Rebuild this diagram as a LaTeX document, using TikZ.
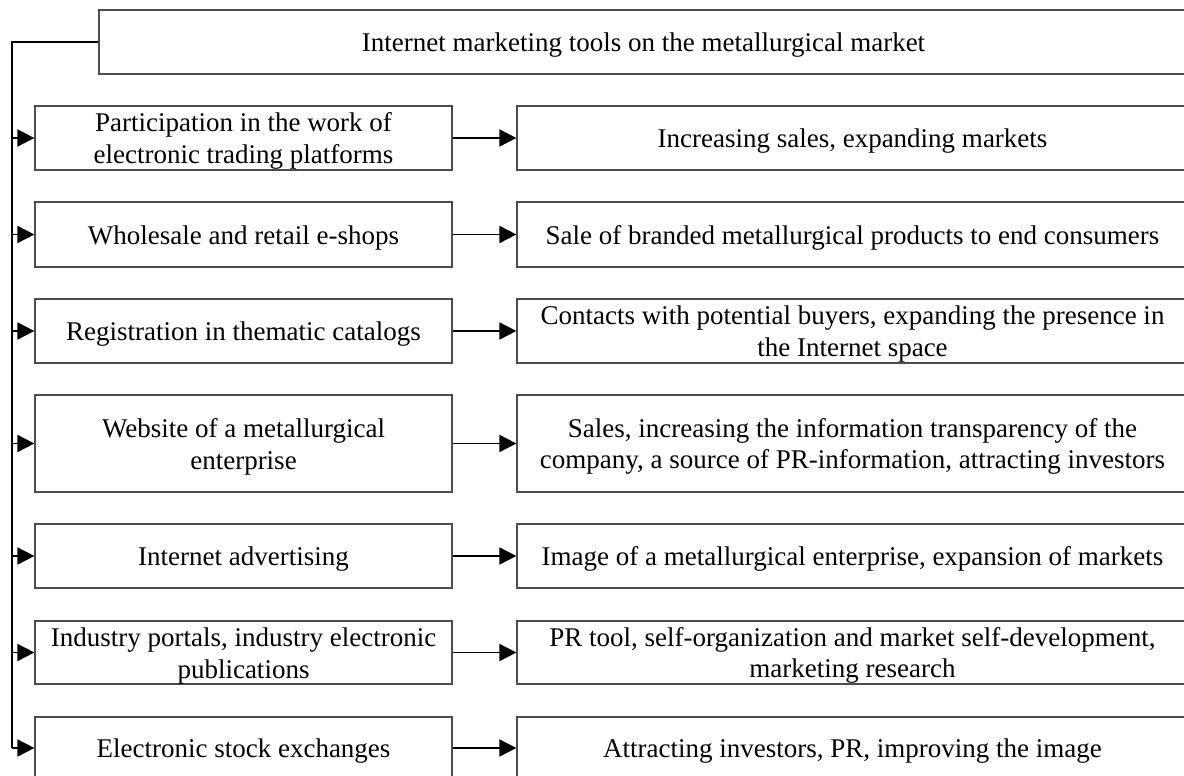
\documentclass[tikz,border=0pt]{standalone}
\usepackage{fontspec}
\setmainfont{Liberation Serif}
\usetikzlibrary{arrows.meta}
\newcommand\fstrut{\rule{0pt}{12.6pt}}
\begin{document}
\begin{tikzpicture}[x=0.5pt,y=-0.5pt,
  box/.style={draw=black!70, line width=0.6pt, rectangle, inner xsep=1pt, inner ysep=0pt, align=center,
    font=\fontsize{13.5}{15.8}\selectfont},
  lbox/.style={box, minimum width=208.5pt},
  rbox/.style={box, minimum width=335.5pt},
  conn/.style={draw=black, line width=0.9pt},
  arr/.style={conn, -{Triangle[length=8.5pt,width=8.5pt]}}
]
\useasboundingbox (0,0) rectangle (1184,776);
\node[box, minimum width=544.5pt, minimum height=32pt] (top) at (643.5,42) {\fstrut Internet marketing tools on the metallurgical market};

\node[lbox, minimum height=32pt] (l1) at (243.5,138) {\fstrut Participation in the work of\\electronic trading platforms};
\node[rbox, minimum height=32pt] (r1) at (852.5,138) {\fstrut Increasing sales, expanding markets};

\node[lbox, minimum height=32.5pt] (l2) at (243.5,234.5) {\fstrut Wholesale and retail e-shops};
\node[rbox, minimum height=32.5pt] (r2) at (852.5,234.5) {\fstrut Sale of branded metallurgical products to end consumers};

\node[lbox, minimum height=32pt] (l3) at (243.5,331) {\fstrut Registration in thematic catalogs};
\node[rbox, minimum height=32pt] (r3) at (852.5,331) {\fstrut Contacts with potential buyers, expanding the presence in\\the Internet space};

\node[lbox, minimum height=48.5pt] (l4) at (243.5,443.5) {\fstrut Website of a metallurgical\\enterprise};
\node[rbox, minimum height=48.5pt] (r4) at (852.5,443.5) {\fstrut Sales, increasing the information transparency of the\\company, a source of PR-information, attracting investors};

\node[lbox, minimum height=32pt] (l5) at (243.5,556) {\fstrut Internet advertising};
\node[rbox, minimum height=32pt] (r5) at (852.5,556) {\fstrut Image of a metallurgical enterprise, expansion of markets};

\node[lbox, minimum height=31.5pt] (l6) at (243.5,652.5) {\fstrut Industry portals, industry electronic\\publications};
\node[rbox, minimum height=31.5pt] (r6) at (852.5,652.5) {\fstrut PR tool, self-organization and market self-development,\\marketing research};

\node[lbox, minimum height=31pt] (l7) at (243.5,748) {\fstrut Electronic stock exchanges};
\node[rbox, minimum height=31pt] (r7) at (852.5,748) {\fstrut Attracting investors, PR, improving the image};

\coordinate (sTop) at (12,42);
\coordinate (sBot) at (12,748);
\draw[conn] (top.west) -- (sTop) -- (sBot);
\foreach \i in {1,...,7}{
  \draw[arr] (sTop |- l\i.west) -- (l\i.west);
  \draw[arr] (l\i.east) -- (r\i.west);
}
\end{tikzpicture}
\end{document}
